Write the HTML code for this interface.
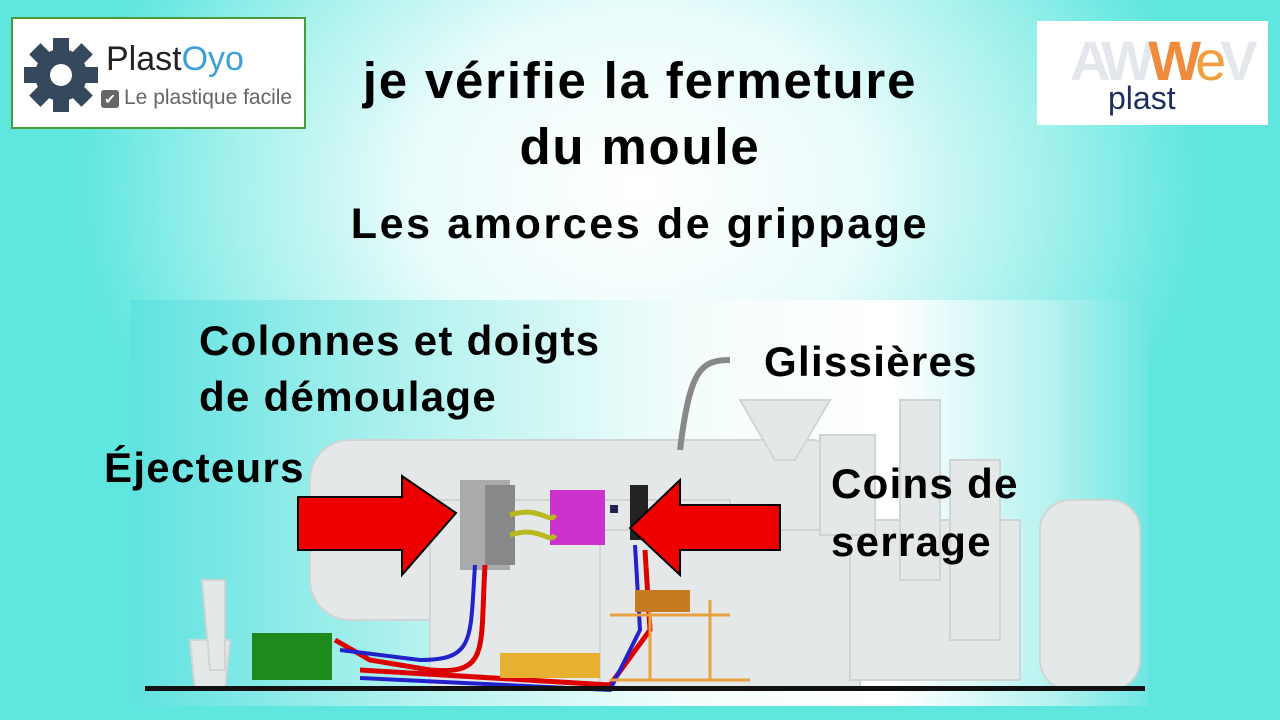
<!DOCTYPE html>
<html><head><meta charset="utf-8"><style>
body{margin:0;width:1280px;height:720px;overflow:hidden;position:relative;font-family:"Liberation Sans",sans-serif;
background:radial-gradient(ellipse 560px 440px at 640px 190px,#ffffff 0%,#eafcfb 40%,#9ff0ec 75%,#5fe6df 100%);}
.t{position:absolute;font-weight:bold;color:#000;white-space:nowrap}
</style></head><body>
<div style="position:absolute;left:11px;top:17px;width:295px;height:112px;border:2px solid #4a9a3a;background:#fff;box-sizing:border-box"></div>
<svg style="position:absolute;left:24px;top:38px" width="74" height="74" viewBox="-37 -37 74 74">
<g fill="#36495c"><circle r="26"/>
<g id="tt"><rect x="-8" y="-37" width="16" height="14"/></g>
<use href="#tt" transform="rotate(45)"/><use href="#tt" transform="rotate(90)"/><use href="#tt" transform="rotate(135)"/><use href="#tt" transform="rotate(180)"/><use href="#tt" transform="rotate(225)"/><use href="#tt" transform="rotate(270)"/><use href="#tt" transform="rotate(315)"/></g>
<circle r="11" fill="#fff"/></svg>
<div style="position:absolute;left:106px;top:40px;font-size:34px;color:#222">Plast<span style="color:#3b9fd8">Oyo</span></div>
<div style="position:absolute;left:101px;top:90px;width:18px;height:18px;background:#666;border-radius:3px;color:#fff;font-size:14px;text-align:center;line-height:18px">✔</div>
<div style="position:absolute;left:124px;top:86px;font-size:21px;color:#666">Le plastique facile</div>

<div style="position:absolute;left:1037px;top:21px;width:231px;height:104px;background:#fff"></div>
<div style="position:absolute;left:1070px;top:28px;font-size:56px;font-weight:bold;color:#e4e8ec;letter-spacing:-6px">AW<span style="color:#f08a3c">W</span><span style="color:#f0a040;font-weight:normal">e</span>V</div>
<div style="position:absolute;left:1108px;top:80px;font-size:32px;color:#1d2f5c">plast</div>

<div class="t" style="left:0;width:1280px;text-align:center;top:48px;font-size:51px;line-height:66px;letter-spacing:1.8px">je vérifie la fermeture<br>du moule</div>
<div class="t" style="left:0;width:1280px;text-align:center;top:200px;font-size:43px;letter-spacing:2.6px">Les amorces de grippage</div>

<div style="position:absolute;left:130px;top:300px;width:1018px;height:406px;background:linear-gradient(90deg,#5fe2e0 0%,#b8f3f0 30%,#f4fdfc 55%,#ffffff 75%,#b8f3f0 90%,#6fe6e2 100%)"></div>
<svg style="position:absolute;left:130px;top:300px" width="1018" height="406">
<g fill="#e4e8e8" stroke="#d0d4d4" stroke-width="2">
<rect x="180" y="140" width="540" height="180" rx="40"/>
<rect x="300" y="200" width="300" height="190"/>
<rect x="470" y="230" width="260" height="160"/>
<rect x="720" y="220" width="170" height="160"/>
<path d="M610 100 L700 100 L665 160 L645 160Z"/>
<rect x="690" y="135" width="55" height="100"/>
<rect x="770" y="100" width="40" height="180"/>
<rect x="820" y="160" width="50" height="180"/>
<rect x="910" y="200" width="100" height="190" rx="30"/>
<path d="M60 340 L100 340 L95 390 L65 390Z"/>
<path d="M72 280 L95 280 L95 370 L80 370Z"/>
</g>
<path d="M550 150 C560 70 570 60 600 60" stroke="#888" stroke-width="6" fill="none"/>
<rect x="330" y="180" width="50" height="90" fill="#aaa"/>
<rect x="355" y="185" width="30" height="80" fill="#888"/>
<rect x="420" y="190" width="55" height="55" fill="#cc33cc"/>
<rect x="500" y="185" width="18" height="55" fill="#222"/>
<path d="M380 215 C410 205 420 225 425 215 M380 235 C410 225 420 245 425 235" stroke="#b8b820" stroke-width="5" fill="none"/>
<rect x="122" y="333" width="80" height="47" fill="#1e8a1e"/>
<rect x="480" y="205" width="8" height="8" fill="#225"/>
<path d="M355 265 C350 350 360 375 300 370 L240 360 L205 340" stroke="#d00" stroke-width="5" fill="none"/>
<path d="M345 265 C340 340 345 360 290 360 L210 350" stroke="#22c" stroke-width="4" fill="none"/>
<path d="M230 370 L480 385 L520 330 L515 250" stroke="#d00" stroke-width="5" fill="none"/>
<path d="M230 378 L480 390 L510 330 L505 245" stroke="#22c" stroke-width="4" fill="none"/>
<path d="M480 380 L620 380 M520 300 L520 380 M580 300 L580 380 M480 315 L600 315" stroke="#e8a040" stroke-width="3" fill="none"/>
<rect x="505" y="290" width="55" height="22" fill="#c77a20"/>
<rect x="370" y="353" width="100" height="25" fill="#e8b030"/>
<rect x="15" y="386" width="1000" height="5" fill="#111"/>
</svg>
<svg style="position:absolute;left:0;top:0" width="1280" height="720">
<path d="M298 497 L402 497 L402 476 L456 513 L402 575 L402 550 L298 550Z" fill="#ee0000" stroke="#000" stroke-width="2"/>
<path d="M780 505 L680 505 L680 480 L630 528 L680 575 L680 550 L780 550Z" fill="#ee0000" stroke="#000" stroke-width="2"/>
</svg>
<div class="t" style="left:199px;top:313px;font-size:42px;line-height:56px;letter-spacing:1.3px">Colonnes et doigts<br>de démoulage</div>
<div class="t" style="left:764px;top:338px;font-size:42px;letter-spacing:1.3px">Glissières</div>
<div class="t" style="left:104px;top:444px;font-size:42px;letter-spacing:1.3px">Éjecteurs</div>
<div class="t" style="left:831px;top:455px;font-size:42px;line-height:58px;letter-spacing:1.3px">Coins de<br>serrage</div>
</body></html>
